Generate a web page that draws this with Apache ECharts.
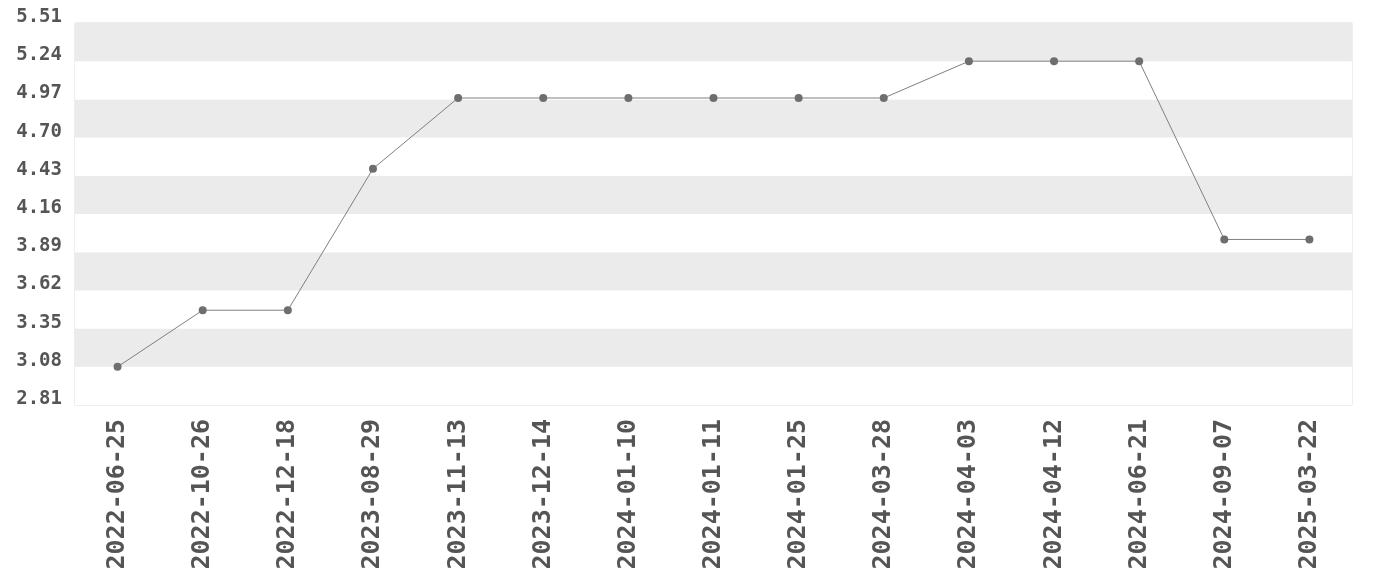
<!DOCTYPE html>
<html>
<head>
<meta charset="utf-8">
<script src="https://cdn.jsdelivr.net/npm/echarts@6/dist/echarts.min.js"></script>
<style>
  html, body { margin: 0; padding: 0; background: #fff; }
  #chart { width: 1380px; height: 580px; }
</style>
</head>
<body>
<div id="chart"></div>
<script>
// dates on the x axis
const dates = [
  '2022-06-25', '2022-10-26', '2022-12-18', '2023-08-29', '2023-11-13',
  '2023-12-14', '2024-01-10', '2024-01-11', '2024-01-25', '2024-03-28',
  '2024-04-03', '2024-04-12', '2024-06-21', '2024-09-07', '2025-03-22'
]
// values
const values = [
  3.08, 3.48, 3.48, 4.48, 4.98,
  4.98, 4.98, 4.98, 4.98, 4.98,
  5.24, 5.24, 5.24, 3.98, 3.98
]
// y axis range and step
const yMin = 2.81
const yMax = 5.51
const yStep = 0.27

const chart = echarts.init(document.getElementById('chart'))
const font = 'DejaVu Sans Mono'

chart.setOption({
  animation: false,
  grid: {
    left: 75,
    right: 28,
    top: 23,
    bottom: 175,
    show: true,
    borderColor: '#dddddd',
    borderWidth: 1
  },
  xAxis: {
    type: 'category',
    data: dates,
    boundaryGap: true,
    axisLine: { show: false },
    axisTick: { show: false },
    axisLabel: {
      rotate: 90,
      margin: 14,
      fontFamily: font,
      fontWeight: 'bold',
      fontSize: 25,
      color: '#555555'
    }
  },
  yAxis: {
    type: 'value',
    min: yMin,
    max: yMax,
    interval: yStep,
    axisLine: { show: false },
    axisTick: { show: false },
    splitLine: { show: false },
    splitArea: {
      show: true,
      areaStyle: { color: ['#ffffff', '#ebebeb'] }
    },
    axisLabel: {
      margin: 13,
      fontFamily: font,
      fontWeight: 'bold',
      fontSize: 19,
      color: '#555555',
      // 文字基线落在网格线上
      verticalAlign: 'bottom',
      lineHeight: 12,
      formatter: (v) => v.toFixed(2)
    }
  },
  series: [
    {
      type: 'line',
      data: values,
      symbol: 'circle',
      symbolSize: 8,
      lineStyle: { color: '#808080', width: 1 },
      itemStyle: { color: '#6e6e6e' }
    }
  ]
})
</script>
</body>
</html>
